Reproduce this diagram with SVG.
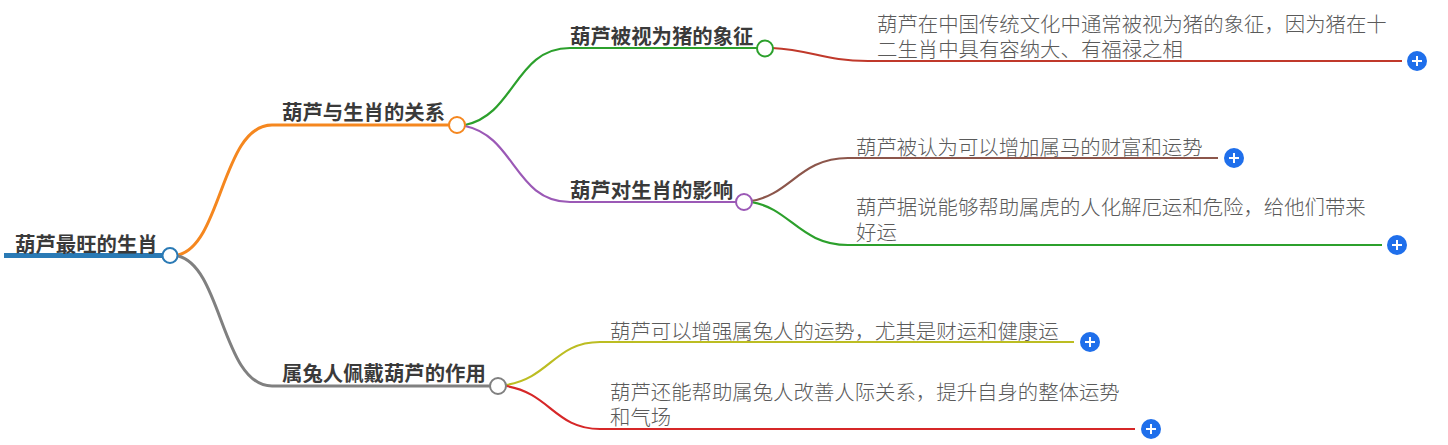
<svg xmlns="http://www.w3.org/2000/svg" width="1448" height="445" viewBox="0 0 1448 445">
<style>
text{font-family:"Noto Sans CJK SC","Liberation Sans",sans-serif;font-size:20.400px}
.b{font-weight:700;fill:#3a3a3a}
.l{font-weight:300;fill:#5a5a5a}
.c{fill:none;stroke-width:2.200}
.t{fill:none;stroke-width:3}
.d{fill:#fff;stroke-width:2}
.p{fill:#1f6feb}
.w{stroke:#fff;stroke-width:2;fill:none}
</style>
<rect width="1448" height="445" fill="#fff"/>
<g id="connectors">
<path d="M4 255.500H162" fill="none" stroke="#2a7ab5" stroke-width="5"/>
<path class="t" stroke="#f5871f" d="M178 255C222 245 222 125 272 125H449"/>
<path class="t" stroke="#808080" d="M178 256C222 266 222 386 272 386H490"/>
<path class="c" stroke="#2ca02c" d="M465 125C515 115 515 48 570 48H757"/>
<path class="c" stroke="#9b59b6" d="M465 126C515 136 515 202 570 202H736"/>
<path class="c" stroke="#c0392b" d="M772 48C812 50 825 61 868 61H1402"/>
<path class="c" stroke="#8c564b" d="M751 201C790 195 800 158 848 158H1218"/>
<path class="c" stroke="#2ca02c" d="M751 202C790 208 800 245 848 245H1382"/>
<path class="c" stroke="#bcbd22" d="M506 385C550 378 555 342 600 342H1074"/>
<path class="c" stroke="#d62728" d="M506 386C550 393 555 429 600 429H1135"/>
</g>
<g id="root"><text class="b" x="15" y="252">葫芦最旺的生肖</text><circle class="d" stroke="#2a7ab5" cx="170" cy="255.500" r="7.500"/></g>
<g id="n1"><text class="b" x="282" y="120">葫芦与生肖的关系</text><circle class="d" stroke="#f5871f" cx="457" cy="125" r="8"/></g>
<g id="n2"><text class="b" x="282" y="381">属兔人佩戴葫芦的作用</text><circle class="d" stroke="#808080" cx="498" cy="386" r="8"/></g>
<g id="n3"><text class="b" x="570" y="43.500">葫芦被视为猪的象征</text><circle class="d" stroke="#2ca02c" cx="765" cy="48.500" r="8"/></g>
<g id="n4"><text class="b" x="570" y="197.500">葫芦对生肖的影响</text><circle class="d" stroke="#9b59b6" cx="744" cy="202" r="8"/></g>
<g id="n5"><text class="l" x="877" y="31.500">葫芦在中国传统文化中通常被视为猪的象征，因为猪在十</text><text class="l" x="877" y="57">二生肖中具有容纳大、有福禄之相</text><circle class="p" cx="1417" cy="61" r="10"/><path class="w" d="M1412 61h10M1417 56v10"/></g>
<g id="n6"><text class="l" x="856" y="155">葫芦被认为可以增加属马的财富和运势</text><circle class="p" cx="1234" cy="158" r="10"/><path class="w" d="M1229 158h10M1234 153v10"/></g>
<g id="n7"><text class="l" x="856" y="215">葫芦据说能够帮助属虎的人化解厄运和危险，给他们带来</text><text class="l" x="856" y="240">好运</text><circle class="p" cx="1397" cy="245" r="10"/><path class="w" d="M1392 245h10M1397 240v10"/></g>
<g id="n8"><text class="l" x="610" y="339">葫芦可以增强属兔人的运势，尤其是财运和健康运</text><circle class="p" cx="1090" cy="342" r="10"/><path class="w" d="M1085 342h10M1090 337v10"/></g>
<g id="n9"><text class="l" x="610" y="400">葫芦还能帮助属兔人改善人际关系，提升自身的整体运势</text><text class="l" x="610" y="425">和气场</text><circle class="p" cx="1151" cy="429" r="10"/><path class="w" d="M1146 429h10M1151 424v10"/></g>
</svg>
